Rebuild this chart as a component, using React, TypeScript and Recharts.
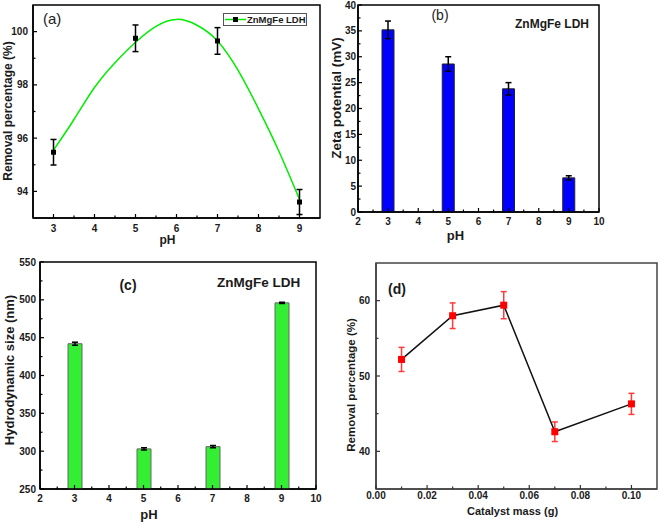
import { ComposedChart, Line, Scatter, Bar, XAxis, YAxis, ErrorBar, Legend, Label } from "recharts";

const FONT = '"Liberation Sans", Arial, Helvetica, sans-serif';

// (a) removal vs pH
const phPoints = [3, 5, 7, 9];
const removalByPh = [95.47, 99.75, 99.65, 93.6];
const removalByPhErr = [0.48, 0.5, 0.5, 0.47];
const fitPh = [3, 3.5, 4, 4.5, 5, 5.5, 6, 6.5, 7, 7.5, 8, 8.5, 9];
const fitRemoval = [95.55, 96.7, 97.9, 98.83, 99.6, 100.2, 100.46, 100.24, 99.65, 98.55, 97.1, 95.5, 93.7];
const phTicksA = [3, 3.5, 4, 4.5, 5, 5.5, 6, 6.5, 7, 7.5, 8, 8.5, 9];
const removalTicksA = [94, 95, 96, 97, 98, 99, 100];

// (b) zeta potential
const zetaPotential = [35.2, 28.6, 23.8, 6.6];
const zetaErr = [1.7, 1.4, 1.2, 0.4];
const zetaTicks = [0, 2.5, 5, 7.5, 10, 12.5, 15, 17.5, 20, 22.5, 25, 27.5, 30, 32.5, 35, 37.5, 40];

// (c) hydrodynamic size
const hydroSize = [442, 303, 306, 496];
const hydroErr = [2, 1.5, 1.5, 0.8];
const hydroTicks = [250, 275, 300, 325, 350, 375, 400, 425, 450, 475, 500, 525, 550];
const phTicksBC = [2, 2.5, 3, 3.5, 4, 4.5, 5, 5.5, 6, 6.5, 7, 7.5, 8, 8.5, 9, 9.5, 10];

// (d) removal vs catalyst mass
const catalystMass = [0.01, 0.03, 0.05, 0.07, 0.1];
const removalByMass = [52.2, 58, 59.4, 42.6, 46.3];
const removalByMassErr = [1.6, 1.7, 1.8, 1.3, 1.4];
const massTicks = [0, 0.01, 0.02, 0.03, 0.04, 0.05, 0.06, 0.07, 0.08, 0.09, 0.1];
const removalTicksD = [40, 45, 50, 55, 60];

// panel boxes: chart size, margins, axis sizes
type Box = { w: number; h: number; top: number; right: number; yw: number; xh: number };
const boxA: Box = { w: 330, h: 262, top: 5, right: 10, yw: 33, xh: 44 };
const boxB: Box = { w: 331, h: 262, top: 5, right: 62, yw: 28, xh: 50 };
const boxC: Box = { w: 330, h: 276, top: 12, right: 14, yw: 40, xh: 37 };
const boxD: Box = { w: 331, h: 276, top: 13, right: 4, yw: 46, xh: 37 };

// inward ticks, label only on the major ones
function tickMaker(side: "bottom" | "left", margin: number, step: number, size: number, digits = 0, color = "#000") {
  return (props: any) => {
    const { x, y, payload } = props;
    const v = payload.value as number;
    const major = Math.abs(v / step - Math.round(v / step)) < 1e-6;
    const len = major ? 4 : 2.5;
    const label = major ? v.toFixed(digits) : "";
    if (side === "bottom") {
      const ay = y - margin;
      return (
        <g>
          <line x1={x} x2={x} y1={ay} y2={ay - len} stroke={color} strokeWidth={1.2} />
          {label && (
            <text x={x} y={y} dy="0.71em" textAnchor="middle" fontSize={size} fontWeight="bold" fontFamily={FONT} fill="#1a1a1a">
              {label}
            </text>
          )}
        </g>
      );
    }
    const ax = x + margin;
    return (
      <g>
        <line x1={ax} x2={ax + len} y1={y} y2={y} stroke={color} strokeWidth={1.2} />
        {label && (
          <text x={x} y={y} dy="0.35em" textAnchor="end" fontSize={size} fontWeight="bold" fontFamily={FONT} fill="#1a1a1a">
            {label}
          </text>
        )}
      </g>
    );
  };
}

const frame = { stroke: "#000", strokeWidth: 1.5 };
const titleProps = (size: number) => ({ fontSize: size, fontWeight: "bold", fontFamily: FONT, fill: "#1a1a1a" });

// rotated y-axis title, drawn straight into the chart svg
function YTitle({ x, y, size, children }: { x: number; y: number; size: number; children: string }) {
  return (
    <text transform={`translate(${x},${y}) rotate(-90)`} dy="0.35em" textAnchor="middle" {...titleProps(size)}>
      {children}
    </text>
  );
}

// closed box around the plot area
function Frame({ box, stroke = "#000", width = 1.5 }: { box: Box; stroke?: string; width?: number }) {
  return (
    <rect x={box.yw} y={box.top} width={box.w - box.right - box.yw} height={box.h - box.top - box.xh}
      fill="none" stroke={stroke} strokeWidth={width} />
  );
}

const marginOf = (b: Box) => ({ top: b.top, right: b.right, left: 0, bottom: 0 });

function PanelA() {
  const points = phPoints.map((ph, i) => ({ ph, removal: removalByPh[i], err: removalByPhErr[i] }));
  const fit = fitPh.map((ph, i) => ({ ph, removal: fitRemoval[i] }));
  return (
    <ComposedChart width={boxA.w} height={boxA.h} margin={marginOf(boxA)}>
      <XAxis dataKey="ph" type="number" domain={[2.5, 9.5]} ticks={phTicksA} interval={0} height={boxA.xh}
        tickSize={0} tickLine={false} tickMargin={7} tick={tickMaker("bottom", 7, 1, 10)} axisLine={frame}>
        <Label value="pH" position="insideTop" offset={17} dx={-9} {...titleProps(12)} />
      </XAxis>
      <YAxis type="number" domain={[93, 101]} ticks={removalTicksA} interval={0} width={boxA.yw}
        tickSize={0} tickLine={false} tickMargin={5} tick={tickMaker("left", 5, 2, 10)} axisLine={frame} />
      <Line data={fit} dataKey="removal" type="natural" stroke="#00ee00" strokeWidth={1.5} dot={false} isAnimationActive={false} />
      <Scatter data={points} dataKey="removal" isAnimationActive={false}
        shape={(p: any) => <rect x={p.cx - 2.5} y={p.cy - 2.5} width={5} height={5} fill="#000" />}>
        <ErrorBar dataKey="err" direction="y" width={3} stroke="#000" strokeWidth={1.5} />
      </Scatter>
      <Legend layout="horizontal" verticalAlign="middle" align="center" wrapperStyle={{ left: 223, top: 13, width: 84 }}
        content={() => (
          <div style={{ border: "1px solid #555", height: 11, display: "flex", alignItems: "center", background: "#fff",
            fontSize: 9.5, fontWeight: 700, fontFamily: FONT, color: "#1a1a1a", lineHeight: "11px" }}>
            <svg width={22} height={9} style={{ marginLeft: 1 }}>
              <line x1={0} x2={21} y1={4.5} y2={4.5} stroke="#00ee00" strokeWidth={1.5} />
              <rect x={8} y={2} width={5} height={5} fill="#000" />
            </svg>
            ZnMgFe LDH
          </div>
        )} />
      <Frame box={boxA} />
      <YTitle x={8} y={111} size={12}>Removal percentage (%)</YTitle>
      <text x={43} y={24} fontSize={15} fontFamily={FONT} fill="#222">(a)</text>
    </ComposedChart>
  );
}

function PanelB() {
  const data = phPoints.map((ph, i) => ({ ph, zeta: zetaPotential[i], err: zetaErr[i] }));
  return (
    <ComposedChart width={boxB.w} height={boxB.h} data={data} margin={marginOf(boxB)}>
      <XAxis dataKey="ph" type="number" domain={[2, 10]} ticks={phTicksBC} interval={0} height={boxB.xh}
        tickSize={0} tickLine={false} tickMargin={6} tick={tickMaker("bottom", 6, 1, 10)} axisLine={frame}>
        <Label value="pH" position="insideTop" offset={19} dx={-23} {...titleProps(13)} />
      </XAxis>
      <YAxis type="number" domain={[0, 40]} ticks={zetaTicks} interval={0} width={boxB.yw}
        tickSize={0} tickLine={false} tickMargin={2} tick={tickMaker("left", 2, 5, 10)} axisLine={frame} />
      <Bar dataKey="zeta" barSize={12} fill="#0000ff" stroke="#222" strokeWidth={1} isAnimationActive={false}>
        <ErrorBar dataKey="err" direction="y" width={3} stroke="#000" strokeWidth={1.5} />
      </Bar>
      <Frame box={boxB} />
      <YTitle x={6.5} y={98} size={13.5}>Zeta potential (mV)</YTitle>
      <text x={110} y={20} textAnchor="middle" fontSize={14} fontFamily={FONT} fill="#222">(b)</text>
      <text x={185} y={28} fontSize={12} fontWeight="bold" fontFamily={FONT} fill="#1a1a1a">ZnMgFe LDH</text>
    </ComposedChart>
  );
}

function PanelC() {
  const data = phPoints.map((ph, i) => ({ ph, size: hydroSize[i], err: hydroErr[i] }));
  return (
    <ComposedChart width={boxC.w} height={boxC.h} data={data} margin={marginOf(boxC)}>
      <XAxis dataKey="ph" type="number" domain={[2, 10]} ticks={phTicksBC} interval={0} height={boxC.xh}
        tickSize={0} tickLine={false} tickMargin={6} tick={tickMaker("bottom", 6, 1, 10)} axisLine={frame}>
        <Label value="pH" position="insideTop" offset={21} dx={-29} {...titleProps(13)} />
      </XAxis>
      <YAxis type="number" domain={[250, 550]} ticks={hydroTicks} interval={0} width={boxC.yw}
        tickSize={0} tickLine={false} tickMargin={4} tick={tickMaker("left", 4, 50, 10)} axisLine={frame} />
      <Bar dataKey="size" barSize={14} fill="#33ee33" stroke="#666" strokeWidth={1} isAnimationActive={false}>
        <ErrorBar dataKey="err" direction="y" width={3} stroke="#000" strokeWidth={1.5} />
      </Bar>
      <Frame box={boxC} />
      <YTitle x={9} y={120} size={13}>Hydrodynamic size (nm)</YTitle>
      <text x={128} y={40} textAnchor="middle" fontSize={14} fontWeight="bold" fontFamily={FONT} fill="#1a1a1a">(c)</text>
      <text x={217} y={37} fontSize={13.5} fontWeight="bold" fontFamily={FONT} fill="#1a1a1a">ZnMgFe LDH</text>
    </ComposedChart>
  );
}

function PanelD() {
  const data = catalystMass.map((m, i) => ({ mass: m, removal: removalByMass[i], err: removalByMassErr[i] }));
  const dFrame = { stroke: "#444", strokeWidth: 1.5 };
  return (
    <ComposedChart width={boxD.w} height={boxD.h} data={data} margin={marginOf(boxD)}>
      <XAxis dataKey="mass" type="number" domain={[0, 0.11]} ticks={massTicks} interval={0} height={boxD.xh}
        tickSize={0} tickLine={false} tickMargin={3} tick={tickMaker("bottom", 3, 0.02, 10, 2, "#333")} axisLine={dFrame}>
        <Label value="Catalyst mass (g)" position="insideTop" offset={18} dx={-4} {...titleProps(11)} />
      </XAxis>
      <YAxis type="number" domain={[35, 65]} ticks={removalTicksD} interval={0} width={boxD.yw}
        tickSize={0} tickLine={false} tickMargin={6} tick={tickMaker("left", 6, 10, 10, 0, "#333")} axisLine={dFrame} />
      <Line dataKey="removal" type="linear" stroke="#111" strokeWidth={1.5} isAnimationActive={false}
        dot={(p: any) => <rect key={p.index} x={p.cx - 3.5} y={p.cy - 3.5} width={7} height={7} fill="#ff0000" />}>
        <ErrorBar dataKey="err" direction="y" width={3} stroke="#ff3b3b" strokeWidth={1.5} />
      </Line>
      <Frame box={boxD} stroke="#444" width={1.5} />
      <YTitle x={21} y={135} size={11.5}>Removal percentage (%)</YTitle>
      <text x={67} y={44} textAnchor="middle" fontSize={14} fontWeight="bold" fontFamily={FONT} fill="#1a1a1a">(d)</text>
    </ComposedChart>
  );
}

export default function App() {
  return (
    <div style={{ position: "absolute", left: 0, top: 0, width: 661, height: 526, background: "#fff", fontFamily: FONT }}>
      <div style={{ position: "absolute", left: 0, top: 0 }}><PanelA /></div>
      <div style={{ position: "absolute", left: 330, top: 0 }}><PanelB /></div>
      <div style={{ position: "absolute", left: 0, top: 250 }}><PanelC /></div>
      <div style={{ position: "absolute", left: 330, top: 250 }}><PanelD /></div>
    </div>
  );
}
